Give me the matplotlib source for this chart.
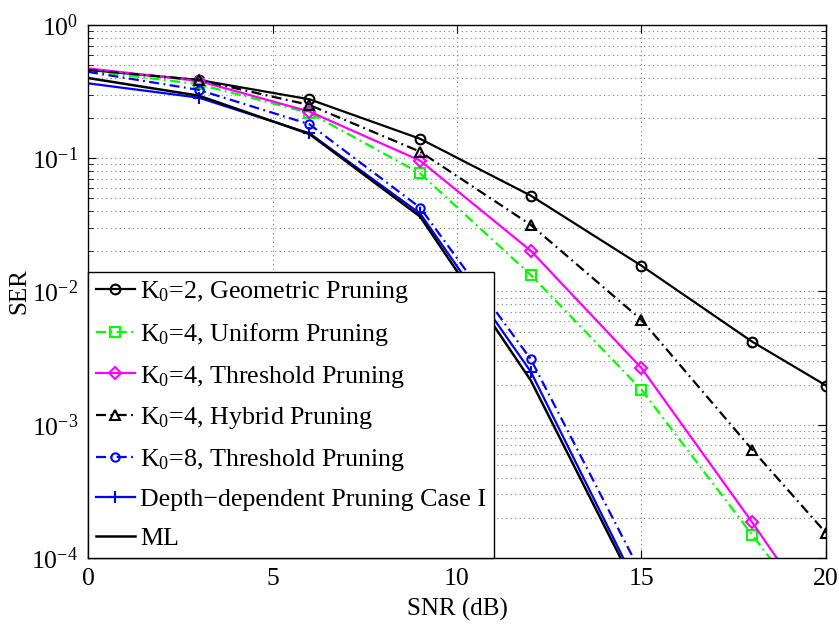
import numpy as np
import matplotlib
matplotlib.use('Agg')
import matplotlib.pyplot as plt
from matplotlib.ticker import LogLocator, FixedLocator, NullFormatter

plt.rcParams['font.family'] = ['Liberation Serif', 'DejaVu Serif']
plt.rcParams['mathtext.fontset'] = 'custom'
plt.rcParams['mathtext.rm'] = 'Liberation Serif'
plt.rcParams['mathtext.it'] = 'Liberation Serif:italic'
plt.rcParams['font.size'] = 18

# SER vs SNR for the pruning schemes
snr = [0, 3, 6, 9, 12, 15, 18, 20]
snr_short = [0, 3, 6, 9, 12, 15]

ser_geo = [0.46, 0.387, 0.277, 0.140, 0.0524, 0.0156, 0.0042, 0.00197]
ser_uni = [0.455, 0.359, 0.219, 0.077, 0.0133, 0.00183, 0.000149, 2.8e-5]
ser_thr4 = [0.473, 0.38, 0.224, 0.096, 0.0202, 0.00266, 0.000185, 2.9e-5]
ser_hyb = [0.46, 0.387, 0.251, 0.112, 0.0316, 0.00612, 0.00065, 0.000154]
ser_thr8 = [0.445, 0.326, 0.18, 0.0426, 0.0031, 7.6e-5]
ser_depth = [0.365, 0.285, 0.154, 0.0385, 0.0025, 5.3e-5]
ser_ml = [0.40, 0.295, 0.152, 0.0365, 0.00215, 4.9e-5]

labels = [r'K$_0$=2, Geometric Pruning',
          r'K$_0$=4, Uniform Pruning',
          r'K$_0$=4, Threshold Pruning',
          r'K$_0$=4, Hybrid Pruning',
          r'K$_0$=8, Threshold Pruning',
          'Depth\u2212dependent Pruning Case I',
          'ML']

fig = plt.figure(figsize=(8.39, 6.33), dpi=100)
ax = fig.add_axes([0.1049, 0.1185, 0.8796, 0.842])

lw = 1.6
dashdot = (0, (4.5, 2, 0.8, 2))
mk = dict(markevery=slice(1, None), mfc='none', mew=1.5, ms=7, lw=lw)

ax.plot(snr, ser_geo, color='k', ls='-', marker='o', label=labels[0], **mk)
ax.plot(snr, ser_uni, color=(0, 1, 0), ls=dashdot, marker='s', label=labels[1], **mk)
ax.plot(snr, ser_thr4, color=(1, 0, 1), ls='-', marker='D', label=labels[2],
        markevery=slice(1, None), mfc='none', mew=1.5, ms=6.5, lw=lw)
ax.plot(snr, ser_hyb, color='k', ls=dashdot, marker='^', label=labels[3], **mk)
ax.plot(snr_short, ser_thr8, color='b', ls=dashdot, marker='o', label=labels[4],
        markevery=slice(1, None), mfc='none', mew=1.5, ms=6, lw=lw)
ax.plot(snr_short, ser_depth, color='b', ls='-', marker='+', label=labels[5],
        markevery=slice(1, None), mew=1.5, ms=8, lw=lw)
ax.plot(snr_short, ser_ml, color='k', ls='-', label=labels[6], lw=lw + 0.2)

ax.set_yscale('log')
ax.set_xlim(0, 20)
ax.set_ylim(1e-4, 1)
ax.xaxis.set_major_locator(FixedLocator([0, 5, 10, 15, 20]))
ax.yaxis.set_major_locator(LogLocator(base=10, numticks=10))
ax.yaxis.set_minor_locator(LogLocator(base=10, subs=np.arange(2, 10), numticks=10))
ax.yaxis.set_minor_formatter(NullFormatter())

ax.tick_params(which='both', direction='in', top=True, right=True, labelsize=18.5)
ax.tick_params(which='major', length=6, width=0.8, pad=7)
ax.tick_params(which='minor', length=3.5, width=0.6)

gridstyle = dict(linestyle=(0, (1, 3)), color='0.5', lw=0.8)
ax.grid(True, which='major', axis='both', **gridstyle)
ax.grid(True, which='minor', axis='y', **gridstyle)
ax.set_axisbelow(True)
for s in ax.spines.values():
    s.set_linewidth(1.0)

ax.set_xlabel('SNR (dB)', labelpad=6)
ax.set_ylabel('SER', labelpad=1)

leg = ax.legend(loc='lower left', borderaxespad=0, fancybox=False,
                framealpha=1, edgecolor='k', handlelength=1.5,
                handletextpad=0.2, labelspacing=0.6, borderpad=0.3,
                fontsize=18.7)
leg.get_frame().set_linewidth(1.0)

fig.savefig('out.png', dpi=100)
